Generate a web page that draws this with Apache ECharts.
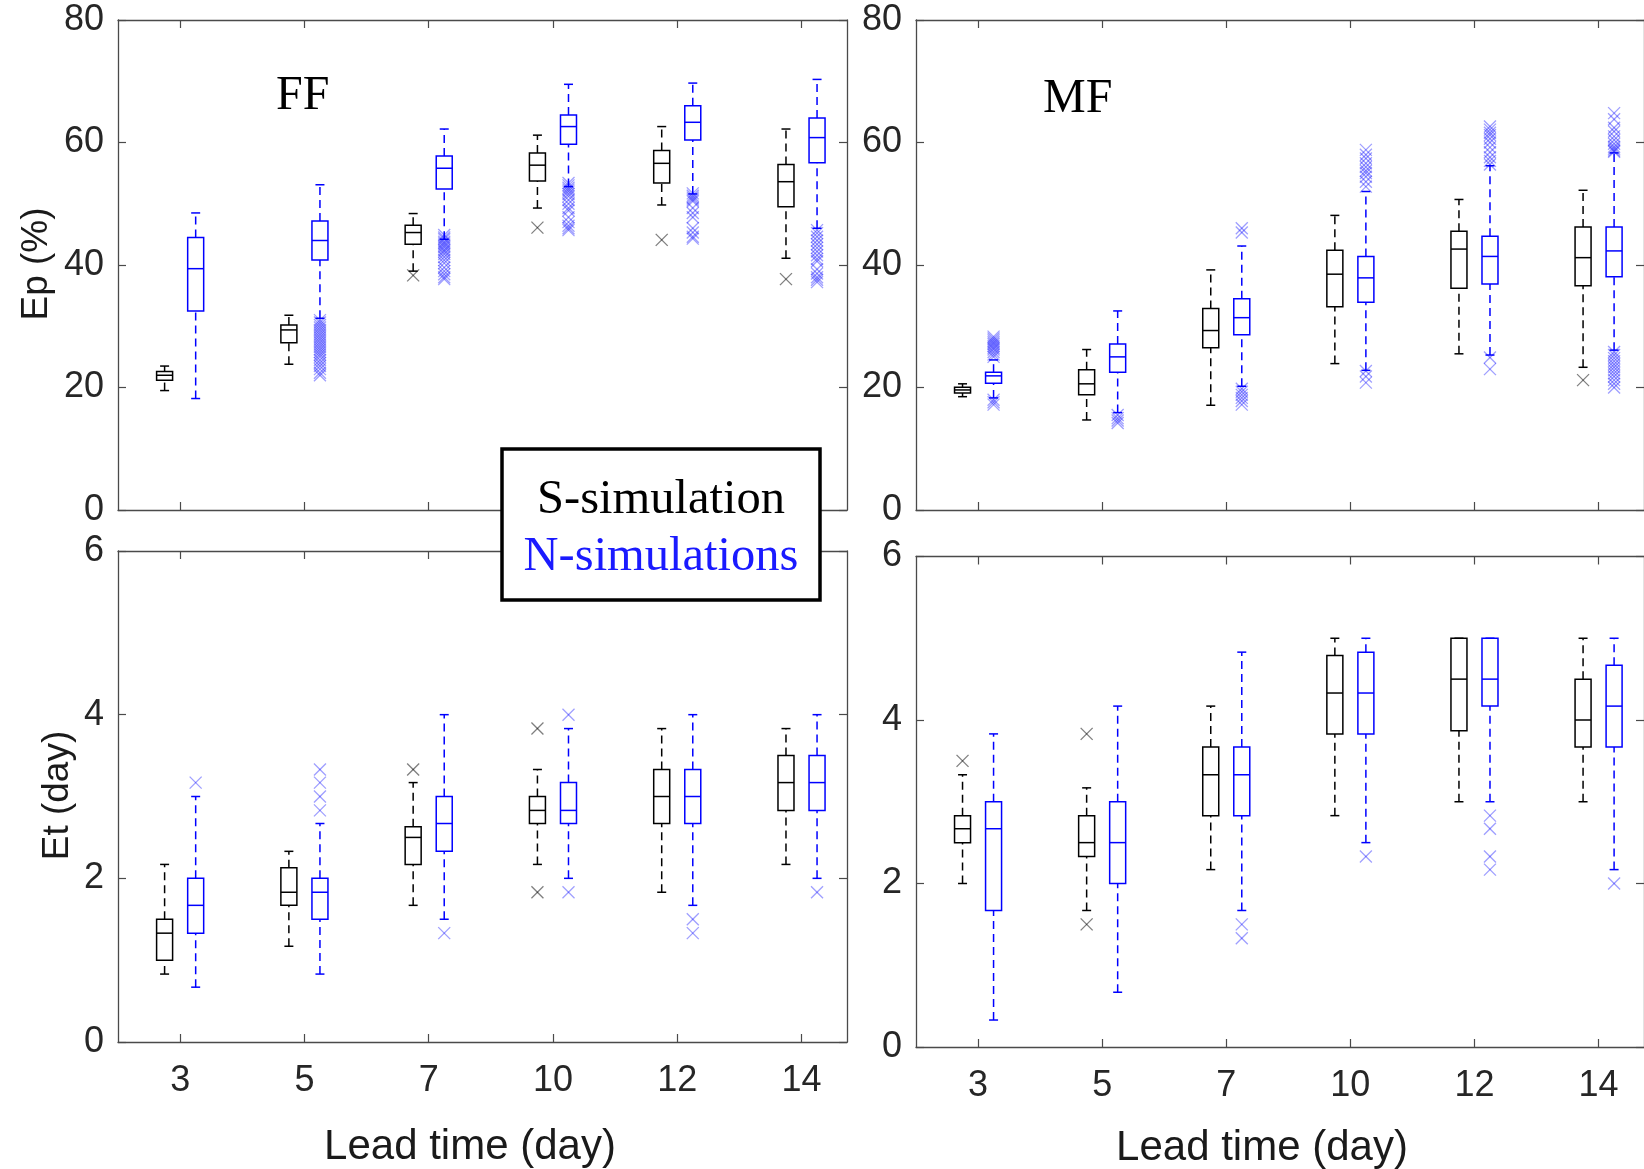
<!DOCTYPE html>
<html>
<head>
<meta charset="utf-8">
<script src="https://cdn.jsdelivr.net/npm/echarts@6/dist/echarts.min.js"></script>
<style>
html,body{margin:0;padding:0;background:#fff;}
#chart{width:1644px;height:1169px;}
</style>
</head>
<body>
<div id="chart"></div>
<script>
// ---------------- DATA ----------------
const categories = ['3', '5', '7', '10', '12', '14'];
const epTicks = [0, 20, 40, 60, 80];
const etTicks = [0, 2, 4, 6];

// Box stats per lead time: [low whisker, Q1, median, Q3, high whisker]
// FF, Ep (%)
const ffEpS = [
  [19.5, 21.2, 22.0, 22.6, 23.5],
  [23.8, 27.3, 29.4, 30.2, 31.8],
  [39.0, 43.4, 45.3, 46.5, 48.4],
  [49.3, 53.7, 56.3, 58.3, 61.2],
  [49.8, 53.4, 56.6, 58.7, 62.6],
  [41.1, 49.5, 53.6, 56.4, 62.2]
];
const ffEpN = [
  [18.2, 32.5, 39.4, 44.5, 48.5],
  [31.3, 40.8, 44.0, 47.2, 53.1],
  [44.2, 52.4, 55.8, 57.8, 62.2],
  [52.8, 59.7, 62.6, 64.5, 69.5],
  [51.6, 60.4, 63.3, 66.0, 69.7],
  [46.0, 56.7, 60.8, 64.0, 70.3]
];
// outliers: [lead-time index (1..6), value]
const ffEpSOut = [[3, 38.3], [4, 46.1], [5, 44.1], [6, 37.7]];
const ffEpNOut = [
  [2, 31.0], [2, 30.6], [2, 30.2], [2, 29.8], [2, 29.4], [2, 29.0], [2, 28.6], [2, 28.2], [2, 27.8], [2, 27.4],
  [2, 27.0], [2, 26.6], [2, 26.2], [2, 25.8], [2, 25.4], [2, 25.0], [2, 24.5], [2, 24.0], [2, 23.5], [2, 23.0],
  [2, 22.4], [2, 22.0],
  [3, 44.9], [3, 44.5], [3, 44.2], [3, 43.8], [3, 43.5], [3, 43.2], [3, 42.9], [3, 42.5], [3, 42.2], [3, 41.8],
  [3, 41.3], [3, 40.8], [3, 40.3], [3, 39.6], [3, 39.0], [3, 38.5], [3, 38.0], [3, 37.7],
  [4, 53.4], [4, 53.0], [4, 52.6], [4, 52.3], [4, 52.0], [4, 51.6], [4, 51.2], [4, 50.6], [4, 50.0], [4, 49.3],
  [4, 48.9], [4, 47.8], [4, 47.0], [4, 46.4], [4, 46.0], [4, 45.7],
  [5, 51.7], [5, 51.3], [5, 51.0], [5, 50.7], [5, 50.4], [5, 49.3], [5, 48.5], [5, 47.8], [5, 46.0], [5, 45.3],
  [5, 44.6], [5, 44.3],
  [6, 45.7], [6, 45.2], [6, 44.6], [6, 44.0], [6, 43.4], [6, 42.8], [6, 42.2], [6, 41.6], [6, 41.0], [6, 40.6],
  [6, 39.3], [6, 38.6], [6, 38.0], [6, 37.6], [6, 37.2]
];

// MF, Ep (%)
const mfEpS = [
  [18.5, 19.1, 19.6, 20.05, 20.6],
  [14.7, 18.8, 20.6, 22.9, 26.2],
  [17.1, 26.5, 29.3, 32.9, 39.2],
  [23.9, 33.2, 38.5, 42.4, 48.1],
  [25.5, 36.2, 42.6, 45.5, 50.7],
  [23.3, 36.6, 41.2, 46.2, 52.2]
];
const mfEpN = [
  [18.3, 20.7, 21.9, 22.5, 24.5],
  [15.9, 22.5, 25.0, 27.1, 32.5],
  [20.2, 28.6, 31.4, 34.5, 43.1],
  [22.8, 33.9, 37.9, 41.4, 52.0],
  [25.3, 36.9, 41.4, 44.7, 56.2],
  [26.1, 38.1, 42.3, 46.2, 58.3]
];
const mfEpSOut = [[6, 21.2]];
const mfEpNOut = [
  [1, 28.3], [1, 28.0], [1, 27.7], [1, 27.4], [1, 27.1], [1, 26.8], [1, 26.5], [1, 26.2], [1, 25.8], [1, 25.4],
  [1, 25.0], [1, 18.0], [1, 17.6], [1, 17.2],
  [2, 15.5], [2, 15.0], [2, 14.6], [2, 14.2],
  [3, 46.0], [3, 45.3], [3, 19.8], [3, 19.3], [3, 18.8], [3, 18.3], [3, 17.8], [3, 17.2],
  [4, 58.8], [4, 58.0], [4, 57.4], [4, 56.6], [4, 56.0], [4, 55.4], [4, 55.0], [4, 54.4], [4, 53.6], [4, 52.8],
  [4, 22.7], [4, 21.8], [4, 20.8],
  [5, 62.6], [5, 62.1], [5, 61.6], [5, 61.2], [5, 60.6], [5, 60.0], [5, 59.2], [5, 58.4], [5, 57.6], [5, 57.0],
  [5, 56.4], [5, 24.9], [5, 23.0],
  [6, 64.8], [6, 63.8], [6, 62.4], [6, 61.8], [6, 61.0], [6, 60.4], [6, 59.8], [6, 59.3], [6, 59.0], [6, 58.7],
  [6, 58.5], [6, 25.8], [6, 25.3], [6, 24.8], [6, 24.3], [6, 23.8], [6, 23.3], [6, 22.8], [6, 22.3], [6, 21.8],
  [6, 21.2], [6, 20.6], [6, 20.0]
];

// FF, Et (day)
const ffEtS = [
  [0.83, 1.0, 1.33, 1.5, 2.17],
  [1.17, 1.67, 1.83, 2.13, 2.33],
  [1.67, 2.17, 2.5, 2.63, 3.17],
  [2.17, 2.67, 2.83, 3.0, 3.33],
  [1.83, 2.67, 3.0, 3.33, 3.83],
  [2.17, 2.83, 3.17, 3.5, 3.83]
];
const ffEtN = [
  [0.67, 1.33, 1.67, 2.0, 3.0],
  [0.83, 1.5, 1.83, 2.0, 2.67],
  [1.5, 2.33, 2.67, 3.0, 4.0],
  [2.0, 2.67, 2.83, 3.17, 3.83],
  [1.67, 2.67, 3.0, 3.33, 4.0],
  [2.0, 2.83, 3.17, 3.5, 4.0]
];
const ffEtSOut = [[3, 3.33], [4, 3.83], [4, 1.83]];
const ffEtNOut = [[1, 3.17], [2, 3.33], [2, 3.17], [2, 3.0], [2, 2.83], [3, 1.33], [4, 4.0], [4, 1.83], [5, 1.5], [5, 1.33], [6, 1.83]];

// MF, Et (day)
const mfEtS = [
  [2.0, 2.5, 2.67, 2.83, 3.33],
  [1.67, 2.33, 2.5, 2.83, 3.17],
  [2.17, 2.83, 3.33, 3.67, 4.17],
  [2.83, 3.83, 4.33, 4.79, 5.0],
  [3.0, 3.87, 4.5, 5.0, 5.0],
  [3.0, 3.67, 4.0, 4.5, 5.0]
];
const mfEtN = [
  [0.33, 1.67, 2.67, 3.0, 3.83],
  [0.67, 2.0, 2.5, 3.0, 4.17],
  [1.67, 2.83, 3.33, 3.67, 4.83],
  [2.5, 3.83, 4.33, 4.83, 5.0],
  [3.0, 4.17, 4.5, 5.0, 5.0],
  [2.17, 3.67, 4.17, 4.67, 5.0]
];
const mfEtSOut = [[1, 3.5], [2, 3.83], [2, 1.5]];
const mfEtNOut = [[3, 1.5], [3, 1.33], [4, 2.33], [5, 2.83], [5, 2.67], [5, 2.33], [5, 2.17], [6, 2.0]];

// ---------------- CHART ----------------
const BLACK = '#000000';
const BLUE = '#0000ff';
const AXIS = '#4a4a4a';
const TXT = '#262626';
const SANS = '"Liberation Sans", Arial, sans-serif';
const SERIF = '"Liberation Serif", "Times New Roman", serif';
const OFF = 0.125;
const catPos = categories.map((c, i) => i + 1);

const panels = [
  {grid: {left: 118, top: 20, width: 729, height: 490}, ticks: epTicks, labels: false, S: ffEpS, N: ffEpN, So: ffEpSOut, No: ffEpNOut},
  {grid: {left: 916, top: 20, width: 729, height: 490}, ticks: epTicks, labels: false, S: mfEpS, N: mfEpN, So: mfEpSOut, No: mfEpNOut},
  {grid: {left: 118, top: 551, width: 729, height: 491}, ticks: etTicks, labels: true, S: ffEtS, N: ffEtN, So: ffEtSOut, No: ffEtNOut},
  {grid: {left: 916, top: 556.5, width: 729, height: 490.5}, ticks: etTicks, labels: true, S: mfEtS, N: mfEtN, So: mfEtSOut, No: mfEtNOut}
];

function boxRender(offset, color) {
  return function (params, api) {
    const g = api.value(0) + offset;
    const lo = api.coord([g, api.value(1)]);
    const q1 = api.coord([g, api.value(2)]);
    const md = api.coord([g, api.value(3)]);
    const q3 = api.coord([g, api.value(4)]);
    const hi = api.coord([g, api.value(5)]);
    const x = lo[0], hw = 8, cw = 4.5;
    const solid = {stroke: color, lineWidth: 1.5, fill: null};
    const dashed = {stroke: color, lineWidth: 1.5, lineDash: [8, 5], fill: null};
    return {
      type: 'group',
      children: [
        {type: 'line', shape: {x1: x, y1: q3[1], x2: x, y2: hi[1]}, style: dashed},
        {type: 'line', shape: {x1: x, y1: lo[1], x2: x, y2: q1[1]}, style: dashed},
        {type: 'line', shape: {x1: x - cw, y1: hi[1], x2: x + cw, y2: hi[1]}, style: solid},
        {type: 'line', shape: {x1: x - cw, y1: lo[1], x2: x + cw, y2: lo[1]}, style: solid},
        {type: 'rect', shape: {x: x - hw, y: q3[1], width: 2 * hw, height: q1[1] - q3[1]}, style: {stroke: color, lineWidth: 1.5, fill: 'none'}},
        {type: 'line', shape: {x1: x - hw, y1: md[1], x2: x + hw, y2: md[1]}, style: solid}
      ]
    };
  };
}
function outRender(offset, color) {
  return function (params, api) {
    const p = api.coord([api.value(0) + offset, api.value(1)]);
    const r = 6;
    const st = {stroke: color, lineWidth: 1.3, fill: null};
    return {
      type: 'group',
      children: [
        {type: 'line', shape: {x1: p[0] - r, y1: p[1] - r, x2: p[0] + r, y2: p[1] + r}, style: st},
        {type: 'line', shape: {x1: p[0] - r, y1: p[1] + r, x2: p[0] + r, y2: p[1] - r}, style: st}
      ]
    };
  };
}

const grid = [], xAxis = [], yAxis = [], series = [];
panels.forEach((p, i) => {
  grid.push(p.grid);
  const tickStyle = {show: true, inside: true, length: 8, customValues: catPos, lineStyle: {color: AXIS, width: 1.2}};
  xAxis.push({
    type: 'value', gridIndex: i, position: 'bottom', min: 0.5, max: 6.366,
    axisLine: {show: true, onZero: false, lineStyle: {color: AXIS, width: 1.3}},
    axisTick: tickStyle,
    axisLabel: {show: p.labels, customValues: catPos, formatter: v => categories[Math.round(v) - 1],
      fontSize: 36, fontFamily: SANS, color: TXT, margin: 21},
    splitLine: {show: false}
  });
  xAxis.push({
    type: 'value', gridIndex: i, position: 'top', min: 0.5, max: 6.366,
    axisLine: {show: true, onZero: false, lineStyle: {color: AXIS, width: 1.3}},
    axisTick: tickStyle,
    axisLabel: {show: false},
    splitLine: {show: false}
  });
  const ymax = p.ticks[p.ticks.length - 1];
  const yint = p.ticks[1] - p.ticks[0];
  const yTick = {show: true, inside: true, length: 8, lineStyle: {color: AXIS, width: 1.2}};
  yAxis.push({
    type: 'value', gridIndex: i, position: 'left', min: 0, max: ymax, interval: yint,
    axisLine: {show: true, onZero: false, lineStyle: {color: AXIS, width: 1.3}},
    axisTick: yTick,
    axisLabel: {show: true, fontSize: 36, fontFamily: SANS, color: TXT, margin: 14},
    splitLine: {show: false}
  });
  yAxis.push({
    type: 'value', gridIndex: i, position: 'right', min: 0, max: ymax, interval: yint,
    axisLine: {show: true, onZero: false, lineStyle: {color: AXIS, width: 1.3}},
    axisTick: yTick,
    axisLabel: {show: false},
    splitLine: {show: false}
  });
  const toRows = arr => arr.map((s, k) => [catPos[k]].concat(s));
  series.push({type: 'custom', xAxisIndex: 2 * i, yAxisIndex: 2 * i, renderItem: boxRender(-OFF, BLACK),
    encode: {x: 0, y: [1, 2, 3, 4, 5]}, data: toRows(p.S), silent: true, z: 3});
  series.push({type: 'custom', xAxisIndex: 2 * i, yAxisIndex: 2 * i, renderItem: boxRender(OFF, BLUE),
    encode: {x: 0, y: [1, 2, 3, 4, 5]}, data: toRows(p.N), silent: true, z: 3});
  series.push({type: 'custom', xAxisIndex: 2 * i, yAxisIndex: 2 * i, renderItem: outRender(-OFF, 'rgba(0,0,0,0.5)'),
    encode: {x: 0, y: 1}, data: p.So, silent: true, z: 2});
  series.push({type: 'custom', xAxisIndex: 2 * i, yAxisIndex: 2 * i, renderItem: outRender(OFF, 'rgba(0,0,255,0.38)'),
    encode: {x: 0, y: 1}, data: p.No, silent: true, z: 2});
});

function txt(text, x, y, font, fill, rot, align) {
  return {type: 'text', x: x, y: y, rotation: rot || 0, z: 200,
    style: {text: text, font: font, fill: fill, align: align || 'center', verticalAlign: 'middle',
      textAlign: align || 'center', textVerticalAlign: 'middle'}};
}

const graphic = [
  txt('Ep (%)', 37, 264, '37px ' + SANS, '#1a1a1a', Math.PI / 2),
  txt('Et (day)', 57.5, 795.5, '37px ' + SANS, '#1a1a1a', Math.PI / 2),
  txt('Lead time (day)', 470, 1147, '42px ' + SANS, '#1a1a1a'),
  txt('Lead time (day)', 1262, 1148.5, '42px ' + SANS, '#1a1a1a'),
  txt('FF', 276, 96.5, '48px ' + SERIF, '#000', 0, 'left'),
  txt('MF', 1043, 99.5, '48px ' + SERIF, '#000', 0, 'left'),
  {type: 'rect', z: 150, shape: {x: 502, y: 449, width: 318, height: 151},
    style: {fill: '#fff', stroke: '#000', lineWidth: 3.5}},
  txt('S-simulation', 661, 500, '48.5px ' + SERIF, '#000'),
  txt('N-simulations', 661, 557, '48.5px ' + SERIF, '#1a1aff')
];

const chart = echarts.init(document.getElementById('chart'), null, {renderer: 'canvas'});
chart.setOption({
  animation: false,
  backgroundColor: '#fff',
  grid: grid,
  xAxis: xAxis,
  yAxis: yAxis,
  series: series,
  graphic: graphic
});
</script>
</body>
</html>
